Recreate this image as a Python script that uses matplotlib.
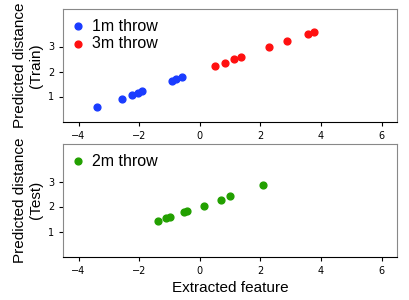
import matplotlib
matplotlib.use("Agg")
import matplotlib.pyplot as plt

# train set, 1m throws
x_1m = [-3.40, -2.58, -2.22, -2.05, -1.89, -0.92, -0.77, -0.57]
y_1m = [0.59, 0.92, 1.07, 1.16, 1.21, 1.62, 1.69, 1.77]
# train set, 3m throws
x_3m = [0.49, 0.83, 1.14, 1.36, 2.29, 2.87, 3.56, 3.76]
y_3m = [2.21, 2.36, 2.49, 2.59, 2.97, 3.23, 3.51, 3.59]
# test set, 2m throws
x_2m = [-1.39, -1.10, -0.99, -0.53, -0.43, 0.13, 0.69, 1.00, 2.08]
y_2m = [1.42, 1.54, 1.58, 1.78, 1.82, 2.04, 2.28, 2.42, 2.88]

x_ticks = [-4, -2, 0, 2, 4, 6]
y_ticks = [1, 2, 3]

lab_font = ["Liberation Sans", "DejaVu Sans"]

fig, (ax1, ax2) = plt.subplots(2, 1, figsize=(4.09, 3.0), dpi=100)
fig.subplots_adjust(left=0.155, right=0.97, top=0.97, bottom=0.145, hspace=0.2)

ax1.scatter(x_1m, y_1m, s=24, color="#1a3cff", label="1m throw")
ax1.scatter(x_3m, y_3m, s=24, color="#ff1010", label="3m throw")
ax2.scatter(x_2m, y_2m, s=24, color="#22a000", label="2m throw")

for ax, name in [(ax1, "Predicted distance\n(Train)"), (ax2, "Predicted distance\n(Test)")]:
    ax.set_xlim(-4.5, 6.5)
    ax.set_ylim(0, 4.5)
    ax.set_xticks(x_ticks)
    ax.set_yticks(y_ticks)
    ax.tick_params(labelsize=7, length=3)
    ax.set_ylabel(name, fontsize=11, family=lab_font, linespacing=1.1)
    for side in ["left", "top", "right"]:
        ax.spines[side].set_color("#888888")
    ax.spines["bottom"].set_color("black")
    ax.legend(loc="upper left", prop={"family": lab_font, "size": 11.5},
              frameon=False, handlelength=0.6, handletextpad=0.6,
              borderaxespad=0.3, borderpad=0.3, labelspacing=0.15)

ax2.set_xlabel("Extracted feature", fontsize=11, family=lab_font)

plt.savefig("out.png", dpi=100)
